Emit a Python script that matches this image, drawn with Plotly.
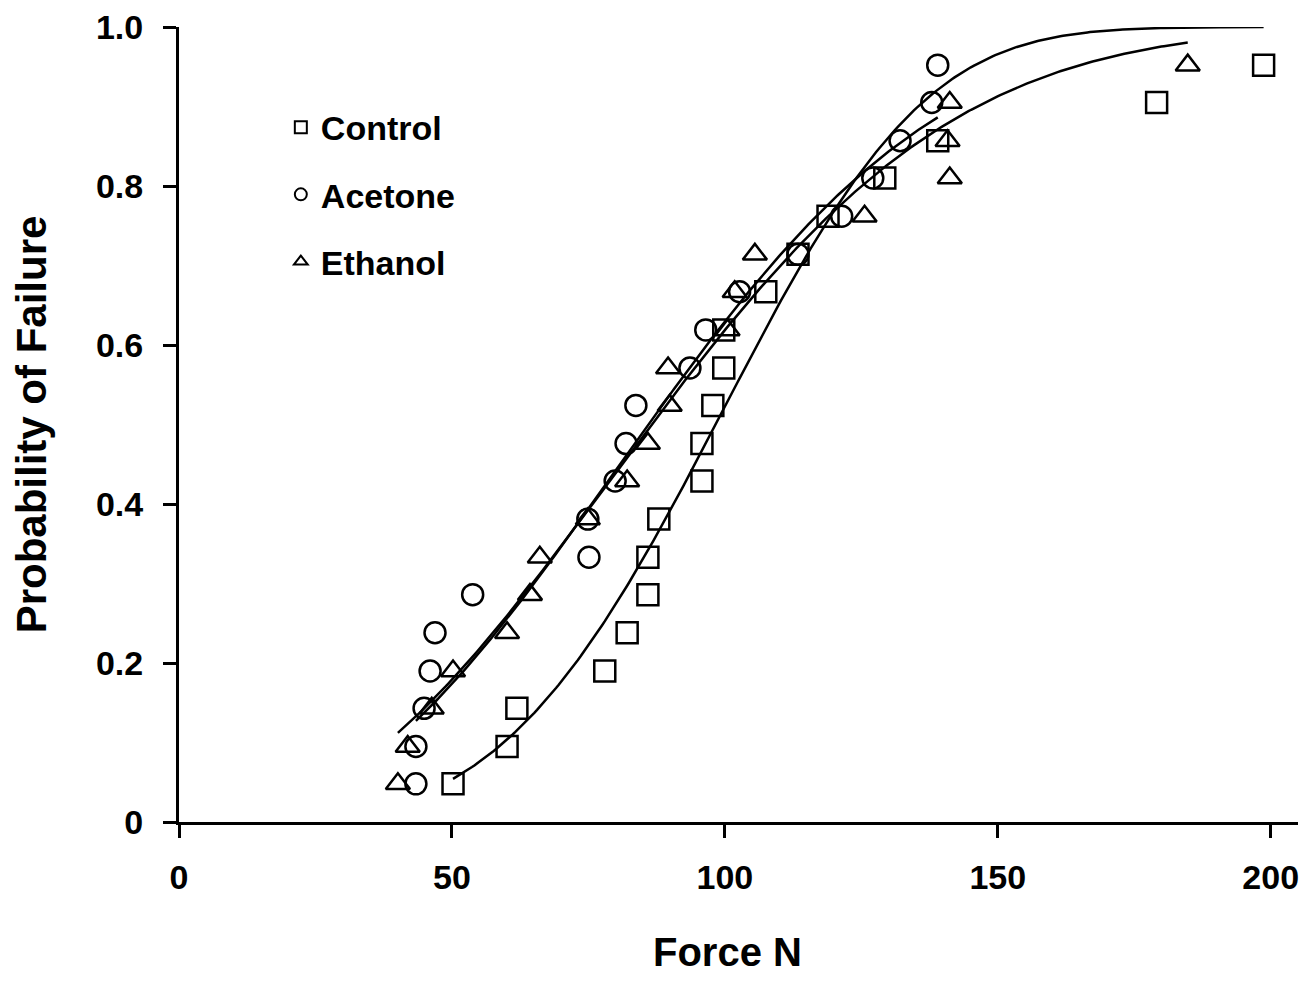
import numpy as np
import plotly.graph_objects as go

# Probability of failure levels (rank / (n+1))
prob = [0.048, 0.095, 0.143, 0.190, 0.238, 0.286, 0.333, 0.381, 0.429, 0.476,
        0.524, 0.571, 0.619, 0.667, 0.714, 0.762, 0.810, 0.857, 0.905, 0.952]

control_force = [50.2, 60.1, 61.9, 78.0, 82.1, 85.9, 85.9, 87.9, 95.8, 95.8,
                 97.8, 99.8, 99.8, 107.5, 113.4, 118.9, 129.3, 139.0, 179.1, 198.7]
acetone_force = [43.4, 43.4, 44.9, 46.0, 46.9, 53.8, 75.1, 74.9, 79.9, 81.9,
                 83.7, 93.6, 96.5, 102.7, 113.4, 121.4, 127.1, 132.1, 137.9, 139.0]
ethanol_force = [40.1, 41.9, 46.3, 50.2, 60.1, 64.3, 66.1, 74.9, 82.1, 85.9,
                 89.9, 89.6, 100.5, 101.8, 105.5, 125.6, 141.2, 140.8, 141.2, 184.8]

# Weibull fit parameters (modulus m, characteristic force x0)
series_names = ["Control", "Acetone", "Ethanol"]
weibull_m = [3.75, 2.38, 2.29]
weibull_x0 = [108.4, 100.3, 101.6]
symbols = ["square-open", "circle-open", "triangle-up-open"]

x_ticks = [0, 50, 100, 150, 200]
x_ticklabels = ["0", "50", "100", "150", "200"]
y_ticks = [0, 0.2, 0.4, 0.6, 0.8, 1.0]
y_ticklabels = ["0", "0.2", "0.4", "0.6", "0.8", "1.0"]

FONT = "Liberation Sans, Arial, sans-serif"

fig = go.Figure()
forces = [control_force, acetone_force, ethanol_force]

# fitted curves
for f, m, x0 in zip(forces, weibull_m, weibull_x0):
    xs = np.linspace(min(f), max(f), 300)
    ys = 1 - np.exp(-(xs / x0) ** m)
    fig.add_trace(go.Scatter(x=xs, y=ys, mode="lines",
                             line=dict(color="black", width=2.5),
                             showlegend=False, hoverinfo="skip"))

# data points
for name, f, sym in zip(series_names, forces, symbols):
    fig.add_trace(go.Scatter(x=f, y=prob, mode="markers", name=name,
                             legendgroup=name,
                             marker=dict(symbol=sym, size=21, color="black",
                                         line=dict(color="black", width=2.5))))

axis_common = dict(showgrid=False, zeroline=False, showline=True,
                   linecolor="black", linewidth=3, ticks="outside",
                   tickcolor="black", tickwidth=3, ticklen=13, automargin=False,
                   ticklabeloverflow="allow",
                   tickfont=dict(family=FONT, size=34, color="black", weight="bold"))

fig.update_xaxes(range=[0, 205], tickvals=x_ticks, ticktext=x_ticklabels,
                 ticklabelstandoff=10, **axis_common)
fig.update_yaxes(range=[0, 1.0], tickvals=y_ticks, ticktext=y_ticklabels,
                 ticklabelstandoff=13,
                 title=dict(text="<b>Probability of Failure</b>", standoff=39,
                            font=dict(family=FONT, size=42, color="black")),
                 **axis_common)

fig.add_annotation(text="<b>Force N</b>", xref="paper", yref="paper",
                   x=0.49, y=-0.163, xanchor="center", yanchor="middle",
                   showarrow=False, font=dict(family=FONT, size=40, color="black"))

fig.update_layout(
    width=1300, height=973,
    margin=dict(l=171, r=10, t=19, b=159, autoexpand=False),
    paper_bgcolor="white", plot_bgcolor="white",
    legend=dict(x=0.091, y=0.91, xanchor="left", yanchor="top",
                font=dict(family=FONT, size=34, color="black", weight="bold"),
                tracegroupgap=20, bgcolor="rgba(0,0,0,0)", itemsizing="constant"),
)

fig.write_html("out.html")
